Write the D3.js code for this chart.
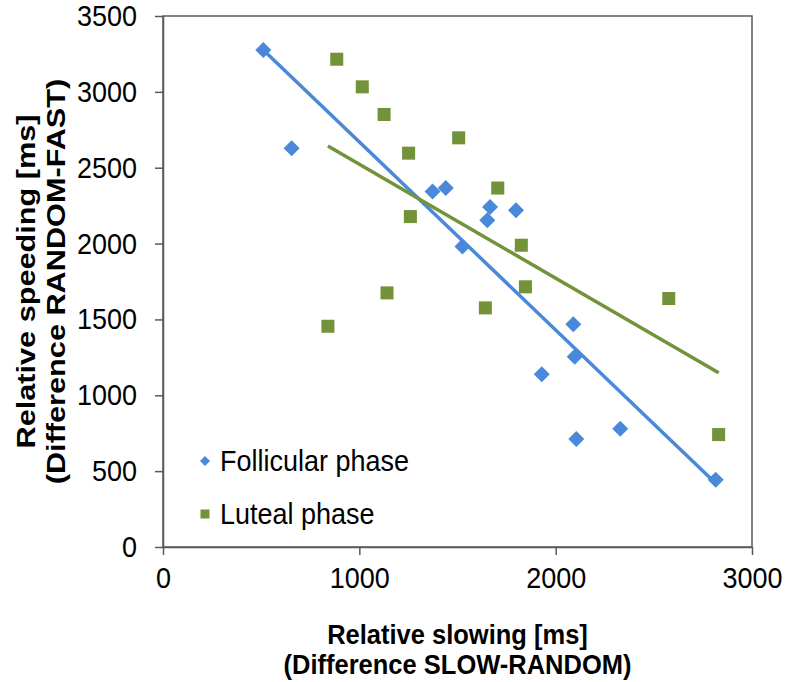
<!DOCTYPE html>
<html>
<head>
<meta charset="utf-8">
<script src="https://cdn.jsdelivr.net/npm/d3@7"></script>
<style>
  html, body { margin: 0; padding: 0; background: #fff; }
  svg { display: block; font-family: "Liberation Sans", Arial, sans-serif; }
</style>
</head>
<body>
<svg id="chart" width="787" height="682"></svg>
<script>
// ---- data ----
const follicularX = [511, 655, 1373, 1440, 1525, 1666, 1652, 1798, 2090, 2097, 1929, 2329, 2105, 2815];
const follicularY = [3276, 2629, 2344, 2366, 1980, 2241, 2153, 2219, 1469, 1254, 1138, 780, 712, 443];
const lutealX = [885, 1015, 1126, 1506, 1251, 1260, 1705, 1825, 1846, 1642, 2576, 2830, 1141, 840];
const lutealY = [3215, 3033, 2851, 2697, 2596, 2178, 2366, 1989, 1715, 1576, 1638, 741, 1675, 1455];
const xTicks = [0, 1000, 2000, 3000];
const yTicks = [0, 500, 1000, 1500, 2000, 2500, 3000, 3500];
const seriesNames = ["Follicular phase", "Luteal phase"];
const xTitle = ["Relative slowing [ms]", "(Difference SLOW-RANDOM)"];
const yTitle = ["Relative speeding [ms]", "(Difference RANDOM-FAST)"];

const blue = "#4a88d9";
const green = "#72933a";
const axisColor = "#595959";
const stretch = 1.1;   // reference text is slightly stretched vertically
const yStretch = 1.18; // along the rotated y title

const svg = d3.select("#chart");
const m = { left: 163, right: 752, top: 16, bottom: 547 };

const x = d3.scaleLinear().domain([0, 3000]).range([m.left, m.right]);
const y = d3.scaleLinear().domain([0, 3500]).range([m.bottom, m.top]);

// frame
svg.append("rect")
  .attr("x", m.left).attr("y", m.top)
  .attr("width", m.right - m.left).attr("height", m.bottom - m.top)
  .attr("fill", "none").attr("stroke", axisColor).attr("stroke-width", 1.5);

// axes
const xAxis = svg.append("g").attr("transform", `translate(0,${m.bottom})`)
  .call(d3.axisBottom(x).tickValues(xTicks).tickFormat(d3.format("d")).tickSizeInner(8).tickSizeOuter(0).tickPadding(10));
const yAxis = svg.append("g").attr("transform", `translate(${m.left},0)`)
  .call(d3.axisLeft(y).tickValues(yTicks).tickFormat(d3.format("d")).tickSizeInner(8).tickSizeOuter(0).tickPadding(18));
[xAxis, yAxis].forEach(g => {
  g.select(".domain").attr("stroke", axisColor).attr("stroke-width", 1.5);
  g.selectAll(".tick line").attr("stroke", axisColor).attr("stroke-width", 1.5);
  g.selectAll(".tick text").attr("fill", "#000").style("font-size", "27px")
    .style("font-family", '"Liberation Sans", Arial, sans-serif')
    .attr("transform", `scale(1,${stretch})`);
});

// regression lines (least squares over the series data)
function fit(xs, ys) {
  const mx = d3.mean(xs), my = d3.mean(ys);
  const sxy = d3.sum(xs, (v, i) => (v - mx) * (ys[i] - my));
  const sxx = d3.sum(xs, v => (v - mx) * (v - mx));
  const b = sxy / sxx, a = my - b * mx;
  const x0 = d3.min(xs), x1 = d3.max(xs);
  return [[x0, a + b * x0], [x1, a + b * x1]];
}
const line = d3.line().x(d => x(d[0])).y(d => y(d[1]));

const lut = lutealX.map((v, i) => [v, lutealY[i]]);
const fol = follicularX.map((v, i) => [v, follicularY[i]]);

svg.append("g").selectAll("path").data(lut).join("path")
  .attr("d", d3.symbol(d3.symbolSquare, 170)())
  .attr("transform", d => `translate(${x(d[0])},${y(d[1])})`)
  .attr("fill", green);

svg.append("g").selectAll("path").data(fol).join("path")
  .attr("d", "M0,-8L8,0L0,8L-8,0Z")
  .attr("transform", d => `translate(${x(d[0])},${y(d[1])})`)
  .attr("fill", blue);

svg.append("path").datum(fit(follicularX, follicularY)).attr("d", line)
  .attr("stroke", blue).attr("stroke-width", 3.5).attr("fill", "none");
svg.append("path").datum(fit(lutealX, lutealY)).attr("d", line)
  .attr("stroke", green).attr("stroke-width", 3.5).attr("fill", "none");

// helper: stretched text line centred vertically on cy
function stretchedText(cx, cy, str, size, weight, anchor) {
  return svg.append("text")
    .attr("transform", `translate(${cx},${cy}) scale(1,${stretch})`)
    .attr("x", 0).attr("y", 0).attr("dy", "0.35em")
    .attr("text-anchor", anchor)
    .style("font-size", size + "px").style("font-weight", weight)
    .attr("fill", "#000").text(str);
}

// legend
const legY = [461, 514];
svg.append("path").attr("d", "M0,-5L5,0L0,5L-5,0Z")
  .attr("transform", `translate(205,${legY[0]})`).attr("fill", blue);
svg.append("rect").attr("x", 200.5).attr("y", legY[1] - 4.5).attr("width", 9).attr("height", 9).attr("fill", green);
seriesNames.forEach((n, i) => stretchedText(220, legY[i], n, 27, "normal", "start"));

// axis titles
const cxPlot = (m.left + m.right) / 2;
stretchedText(cxPlot, 634, xTitle[0], 25.5, "bold", "middle");
stretchedText(cxPlot, 664, xTitle[1], 25.5, "bold", "middle");

const yc = (m.top + m.bottom) / 2;
[[26, yTitle[0]], [56, yTitle[1]]].forEach(([cx, str]) => {
  svg.append("text")
    .attr("transform", `translate(${cx},${yc}) rotate(-90) scale(${yStretch},1)`)
    .attr("x", 0).attr("y", 0).attr("dy", "0.35em")
    .attr("text-anchor", "middle")
    .style("font-size", "26px").style("font-weight", "bold")
    .attr("fill", "#000").text(str);
});
</script>
</body>
</html>
